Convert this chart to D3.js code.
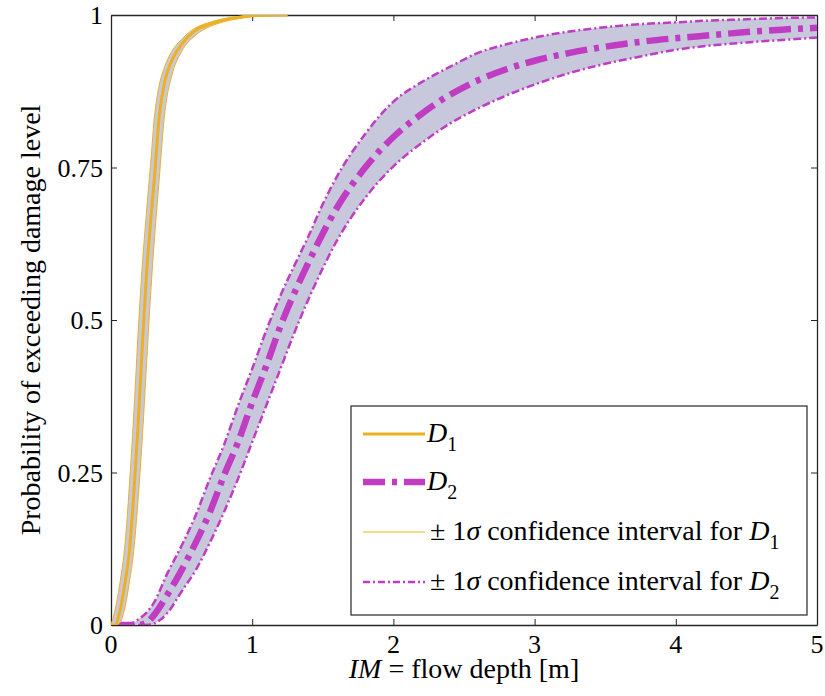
<!DOCTYPE html>
<html>
<head>
<meta charset="utf-8">
<script src="https://cdn.jsdelivr.net/npm/d3@7"></script>
</head>
<body style="margin:0">
<svg width="825" height="696"></svg>
<script>
// D1 fragility curve and its +/- 1 sigma band
const d1X     = [0, 0.03, 0.06, 0.1, 0.13, 0.16, 0.19, 0.22, 0.25, 0.28, 0.31, 0.34, 0.38, 0.43, 0.5, 0.6, 0.7, 0.8, 0.9, 1.0, 1.25];
const d1Mean  = [0, 0, 0.02, 0.07, 0.12, 0.21, 0.32, 0.45, 0.57, 0.66, 0.74, 0.83, 0.89, 0.925, 0.952, 0.975, 0.985, 0.992, 0.996, 0.999, 1];
const d1Upper = [0, 0.026, 0.064, 0.135, 0.228, 0.34, 0.47, 0.585, 0.673, 0.755, 0.838, 0.883, 0.915, 0.94, 0.96, 0.979, 0.988, 0.994, 0.997, 1, 1];
const d1Lower = [0, 0, 0.003, 0.03, 0.07, 0.12, 0.2, 0.3, 0.42, 0.54, 0.64, 0.727, 0.838, 0.9, 0.94, 0.967, 0.981, 0.989, 0.994, 0.997, 1];

// D2 fragility curve and its +/- 1 sigma band
const d2X     = [0, 0.1, 0.2, 0.25, 0.3, 0.4, 0.5, 0.6, 0.7, 0.8, 0.9, 1.0, 1.1, 1.2, 1.3, 1.4, 1.5, 1.6, 1.8, 2.0, 2.2, 2.4, 2.6, 2.8, 3.0, 3.25, 3.5, 3.75, 4.0, 4.25, 4.5, 4.75, 5.0];
const d2Mean  = [0, 0, 0, 0.003, 0.015, 0.05, 0.09, 0.135, 0.185, 0.245, 0.30, 0.365, 0.425, 0.49, 0.545, 0.595, 0.642, 0.684, 0.750, 0.800, 0.838, 0.869, 0.893, 0.911, 0.925, 0.938, 0.948, 0.956, 0.962, 0.967, 0.972, 0.976, 0.979];
const d2Upper = [0, 0, 0.01, 0.02, 0.035, 0.085, 0.13, 0.18, 0.24, 0.295, 0.36, 0.42, 0.483, 0.54, 0.59, 0.638, 0.69, 0.735, 0.805, 0.858, 0.89, 0.915, 0.938, 0.952, 0.963, 0.973, 0.98, 0.985, 0.988, 0.991, 0.993, 0.995, 0.996];
const d2Lower = [0, 0, 0, 0, 0.002, 0.02, 0.055, 0.09, 0.135, 0.185, 0.24, 0.30, 0.36, 0.42, 0.48, 0.535, 0.585, 0.63, 0.70, 0.752, 0.79, 0.822, 0.847, 0.868, 0.886, 0.905, 0.92, 0.932, 0.943, 0.95, 0.955, 0.959, 0.963];

const xTicks = [0, 1, 2, 3, 4, 5];
const yTicks = [0, 0.25, 0.5, 0.75, 1];

const orange = '#edb120';
const magenta = '#c03cc3';
const bandFill = '#c8c8dc';
const fontFam = '"Liberation Serif"';

const margin = { left: 111, right: 8, top: 15, bottom: 71 };
const svg = d3.select('svg');
const width = +svg.attr('width');
const height = +svg.attr('height');
const innerWidth = width - margin.left - margin.right;
const innerHeight = height - margin.top - margin.bottom;

const xScale = d3.scaleLinear().domain([0, 5]).range([margin.left, margin.left + innerWidth]);
const yScale = d3.scaleLinear().domain([0, 1]).range([margin.top + innerHeight, margin.top]);

// plain text helper, same way for every label
function label(x, y, size, anchor) {
  return svg.append('text')
    .attr('x', x).attr('y', y)
    .attr('text-anchor', anchor)
    .style('font-family', fontFam)
    .style('font-size', size + 'px');
}

const axisColor = '#262626';
const tickLen = 6;

// tick labels first, as direct children of the svg
xTicks.forEach(v => label(xScale(v), 653, 26, 'middle').text(String(v)));
yTicks.forEach(v => label(margin.left - 8, yScale(v) + 9, 26, 'end').text(String(v)));

const xl = label(margin.left + innerWidth / 2, 678, 28, 'middle');
xl.append('tspan').style('font-style', 'italic').text('IM');
xl.append('tspan').text(' = flow depth [m]');

svg.append('text')
  .attr('transform', `translate(40, ${margin.top + innerHeight / 2}) rotate(-90)`)
  .attr('text-anchor', 'middle')
  .style('font-family', fontFam)
  .style('font-size', '28px')
  .text('Probability of exceeding damage level');

// axis box with inward ticks on all four sides (tick labels drawn above)
function axisLines(a) {
  a.selectAll('text').remove();
  a.selectAll('path').attr('stroke', axisColor).attr('stroke-width', 1.3);
  a.selectAll('line').attr('stroke', axisColor);
}
svg.append('g').attr('transform', `translate(0, ${margin.top + innerHeight})`)
  .call(d3.axisBottom(xScale).tickValues(xTicks).tickSizeInner(-tickLen).tickSizeOuter(0)).call(axisLines);
svg.append('g').attr('transform', `translate(0, ${margin.top})`)
  .call(d3.axisTop(xScale).tickValues(xTicks).tickSizeInner(-tickLen).tickSizeOuter(0)).call(axisLines);
svg.append('g').attr('transform', `translate(${margin.left}, 0)`)
  .call(d3.axisLeft(yScale).tickValues(yTicks).tickSizeInner(-tickLen).tickSizeOuter(0)).call(axisLines);
svg.append('g').attr('transform', `translate(${margin.left + innerWidth}, 0)`)
  .call(d3.axisRight(yScale).tickValues(yTicks).tickSizeInner(-tickLen).tickSizeOuter(0)).call(axisLines);

// data layer, clipped to the plot box
svg.append('clipPath').attr('id', 'plot-clip')
  .append('rect')
  .attr('x', margin.left).attr('y', margin.top)
  .attr('width', innerWidth).attr('height', innerHeight);
const plot = svg.append('g').attr('clip-path', 'url(#plot-clip)');

function drawSeries(xs, mean, upper, lower, meanStyle, bandStyle) {
  const rows = xs.map((x, i) => ({ x: x, m: mean[i], u: upper[i], l: lower[i] }));
  const area = d3.area()
    .x(d => xScale(d.x))
    .y0(d => yScale(d.l))
    .y1(d => yScale(d.u))
    .curve(d3.curveMonotoneX);
  plot.append('path').datum(rows)
    .attr('fill', bandFill)
    .attr('d', area);

  ['u', 'l'].forEach(k => {
    const line = d3.line().x(d => xScale(d.x)).y(d => yScale(d[k])).curve(d3.curveMonotoneX);
    plot.append('path').datum(rows)
      .attr('fill', 'none')
      .attr('stroke', bandStyle.color)
      .attr('stroke-width', bandStyle.width)
      .attr('stroke-dasharray', bandStyle.dash)
      .attr('d', line);
  });

  const meanLine = d3.line().x(d => xScale(d.x)).y(d => yScale(d.m)).curve(d3.curveMonotoneX);
  plot.append('path').datum(rows)
    .attr('fill', 'none')
    .attr('stroke', meanStyle.color)
    .attr('stroke-width', meanStyle.width)
    .attr('stroke-dasharray', meanStyle.dash)
    .attr('d', meanLine);
}

const d1MeanStyle = { color: orange, width: 3, dash: null };
const d1BandStyle = { color: orange, width: 1, dash: null };
const d2MeanStyle = { color: magenta, width: 6.5, dash: '22,7,5,7' };
const d2BandStyle = { color: magenta, width: 2.5, dash: '8,3,2,3' };

drawSeries(d2X, d2Mean, d2Upper, d2Lower, d2MeanStyle, d2BandStyle);
drawSeries(d1X, d1Mean, d1Upper, d1Lower, d1MeanStyle, d1BandStyle);

// legend
const lx = 351, ly = 406;
svg.append('rect')
  .attr('x', lx).attr('y', ly)
  .attr('width', 456).attr('height', 209)
  .attr('fill', '#fff')
  .attr('stroke', axisColor)
  .attr('stroke-width', 1.2);

const legendItems = [
  { style: d1MeanStyle, cy: 28, pre: '', sub: '1' },
  { style: d2MeanStyle, cy: 76, pre: '', sub: '2' },
  { style: d1BandStyle, cy: 126, pre: 'ci', sub: '1' },
  { style: { color: magenta, width: 2.5, dash: '7,3,2,3' }, cy: 176, pre: 'ci', sub: '2' }
];

legendItems.forEach(it => {
  svg.append('line')
    .attr('x1', lx + 12).attr('x2', lx + 74)
    .attr('y1', ly + it.cy).attr('y2', ly + it.cy)
    .attr('stroke', it.style.color)
    .attr('stroke-width', it.style.width)
    .attr('stroke-dasharray', it.style.dash);
  const t = label(lx + (it.pre ? 79 : 76), ly + it.cy + 8, 28, 'start');
  if (it.pre) {
    t.append('tspan').text('\u00b1 1');
    t.append('tspan').style('font-style', 'italic').text('\u03c3');
    t.append('tspan').text(' confidence interval for ');
  }
  t.append('tspan').style('font-style', 'italic').text('D');
  t.append('tspan').attr('dy', 9).style('font-size', '20px').text(it.sub);
});
</script>
</body>
</html>
